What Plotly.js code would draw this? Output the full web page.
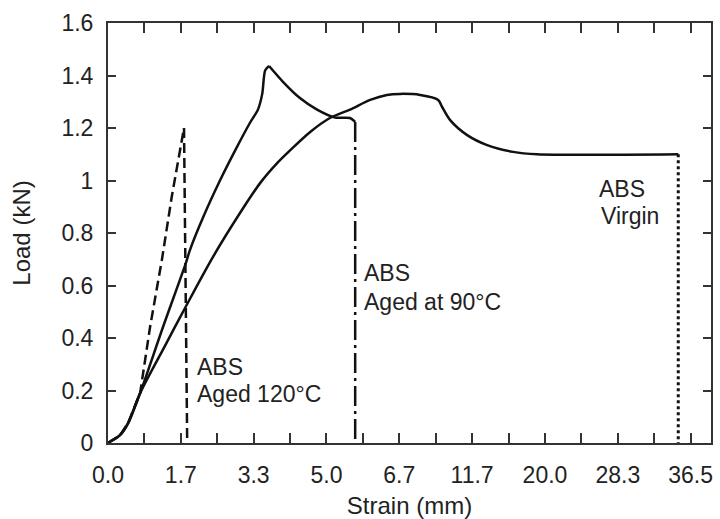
<!DOCTYPE html>
<html>
<head>
<meta charset="utf-8">
<script src="https://cdn.plot.ly/plotly-3.0.1.min.js"></script>
<style>
  html, body { margin: 0; padding: 0; background: #fff; }
  #chart { width: 720px; height: 519px; }
</style>
</head>
<body>
<div id="chart"></div>
<script>
// Tick values of the (non-uniform) strain axis, and their labels
const strainTicks = [0.0, 1.7, 3.3, 5.0, 6.7, 11.7, 20.0, 28.3, 36.5];
const tickLabels  = ['0.0', '1.7', '3.3', '5.0', '6.7', '11.7', '20.0', '28.3', '36.5'];

// ABS aged at 120 °C (dashed)
const aged120Strain = [0, 0.05, 0.28, 0.47, 0.75, 0.98, 1.26, 1.49, 1.61, 1.73, 1.77];
const aged120Load   = [0, 0.005, 0.03, 0.076, 0.19, 0.44, 0.70, 0.94, 1.05, 1.15, 1.20];
const aged120BreakStrain = [1.77, 1.84];
const aged120BreakLoad   = [1.20, 0];

// ABS aged at 90 °C (solid): rising branch up to the peak, then falling branch
const aged90RiseStrain = [0, 0.05, 0.28, 0.47, 0.75, 1.28, 1.81, 1.90, 2.19, 2.56, 2.94, 3.22, 3.40, 3.50, 3.57, 3.66];
const aged90RiseLoad   = [0, 0.005, 0.03, 0.076, 0.19, 0.44, 0.685, 0.735, 0.86, 1.0, 1.13, 1.22, 1.27, 1.33, 1.42, 1.436];
const aged90FallStrain = [3.66, 3.99, 4.38, 4.78, 5.20, 5.55, 5.67];
const aged90FallLoad   = [1.436, 1.375, 1.314, 1.27, 1.24, 1.238, 1.223];
const aged90BreakStrain = [5.67, 5.67];
const aged90BreakLoad   = [1.223, 0];

// ABS virgin (solid)
const virginStrain = [0, 0.05, 0.28, 0.47, 0.75, 1.33, 1.81, 2.41, 3.00, 3.45, 3.87, 4.15, 4.62, 5.08, 5.55, 6.02, 6.41, 6.76, 8.13, 9.37, 9.64, 10.19, 11.36, 13.41, 16.37, 19.11, 35.11];
const virginLoad   = [0, 0.005, 0.03, 0.076, 0.19, 0.37, 0.52, 0.71, 0.876, 0.99, 1.07, 1.115, 1.185, 1.238, 1.27, 1.307, 1.326, 1.33, 1.326, 1.307, 1.28, 1.23, 1.173, 1.135, 1.109, 1.1, 1.1];
const virginBreakStrain = [35.11, 35.11];
const virginBreakLoad   = [1.1, 0];

// Map a strain value onto the piecewise axis (equal spacing between labelled ticks)
function toAxis(s) {
  const n = strainTicks.length;
  for (let i = 0; i < n - 1; i++) {
    if (s <= strainTicks[i + 1] || i === n - 2) {
      return i + (s - strainTicks[i]) / (strainTicks[i + 1] - strainTicks[i]);
    }
  }
}
const mapX = arr => arr.map(toAxis);

const black = '#111';
function tr(xs, ys, dash, w, smooth) {
  return { x: mapX(xs), y: ys, mode: 'lines', type: 'scatter',
           line: { color: black, width: w || 2.5, dash: dash || 'solid',
                   shape: smooth ? 'spline' : 'linear', smoothing: 0.8 },
           hoverinfo: 'skip', showlegend: false };
}

const data = [
  tr(aged120Strain, aged120Load, '10px,5px', 2.5, false),
  tr(aged120BreakStrain, aged120BreakLoad, '10px,5px'),
  tr(aged90RiseStrain, aged90RiseLoad, 'solid', 2.5, true),
  tr(aged90FallStrain, aged90FallLoad, 'solid', 2.5, true),
  tr(aged90BreakStrain, aged90BreakLoad, '20px,5px,3px,5px'),
  tr(virginStrain, virginLoad, 'solid', 2.5, true),
  tr(virginBreakStrain, virginBreakLoad, '3px,3px', 3)
];

// tick positions: labelled ticks at every index, unlabelled ticks halfway between
const tickPos = [], tickTxt = [];
for (let i = 0; i < strainTicks.length; i++) {
  tickPos.push(i); tickTxt.push(tickLabels[i]);
  if (i < strainTicks.length - 1) { tickPos.push(i + 0.5); tickTxt.push(''); }
}

const fam = 'Liberation Sans, Arial, sans-serif';
const font = { family: fam, size: 23, color: '#222' };
const titleFont = { family: fam, size: 24, color: '#222' };

function label(xp, yp, text) {
  return { xref: 'paper', yref: 'paper', x: xp, y: yp, xanchor: 'left', yanchor: 'middle',
           align: 'left', showarrow: false, text: text, font: font };
}
// paper coords from pixel positions inside the plot area (108..711, 23..443)
const px = v => (v - 108) / 603;
const py = v => (443 - v) / 420;

const layout = {
  width: 720, height: 519,
  margin: { l: 108, r: 9, t: 23, b: 76 },
  paper_bgcolor: '#fff', plot_bgcolor: '#fff',
  font: font,
  xaxis: {
    range: [0, 8.28],
    tickmode: 'array', tickvals: tickPos, ticktext: tickTxt,
    ticks: 'inside', ticklen: 10, tickwidth: 2, tickcolor: '#333',
    showline: true, linecolor: '#333', linewidth: 2, mirror: 'ticks',
    showgrid: false, zeroline: false,
    tickfont: font, ticklabelstandoff: 10,
    title: { text: 'Strain (mm)', font: titleFont, standoff: 16 }
  },
  yaxis: {
    range: [0, 1.6],
    tickmode: 'linear', tick0: 0, dtick: 0.2,
    ticks: 'inside', ticklen: 8, tickwidth: 2, tickcolor: '#333',
    showline: true, linecolor: '#333', linewidth: 2, mirror: 'ticks',
    showgrid: false, zeroline: false,
    tickfont: font, ticklabelstandoff: 8,
    title: { text: 'Load (kN)', font: titleFont, standoff: 24 }
  },
  annotations: [
    label(px(195), py(367), 'ABS'),
    label(px(195), py(394), 'Aged 120°C'),
    label(px(362), py(273), 'ABS'),
    label(px(362), py(302), 'Aged at 90°C'),
    label(px(597), py(189), 'ABS'),
    label(px(599), py(216), 'Virgin')
  ]
};

Plotly.newPlot('chart', data, layout, { staticPlot: true, displayModeBar: false });
</script>
</body>
</html>
